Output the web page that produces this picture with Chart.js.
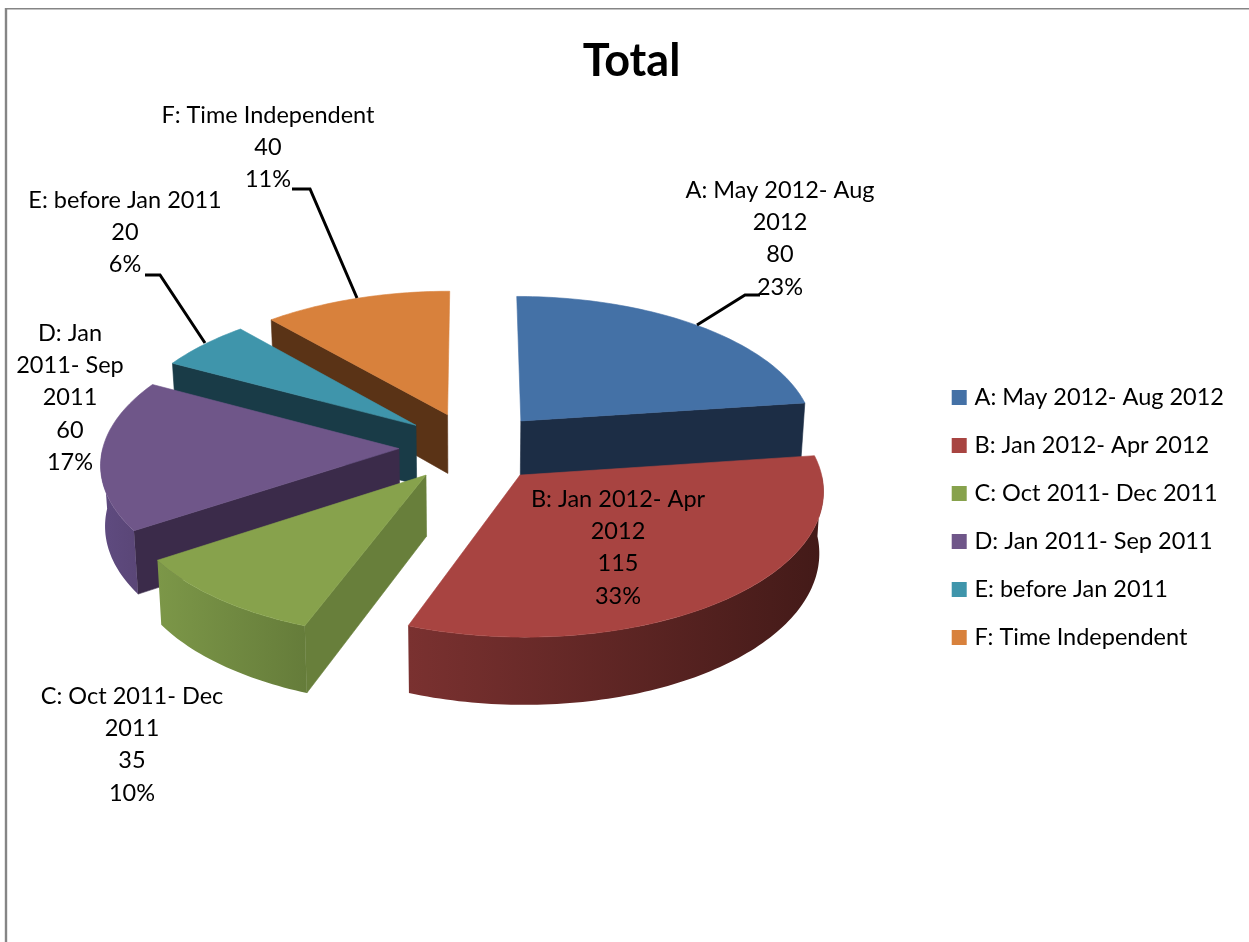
<!DOCTYPE html>
<html>
<head>
<meta charset="utf-8">
<style>html,body{margin:0;padding:0;background:#fff}canvas{display:block}</style>
<script src="https://cdn.jsdelivr.net/npm/chart.js@4"></script>
</head>
<body>
<canvas id="c" width="1249" height="942"></canvas>
<script>
const categories = ['A: May 2012- Aug 2012','B: Jan 2012- Apr 2012','C: Oct 2011- Dec 2011','D: Jan 2011- Sep 2011','E: before Jan 2011','F: Time Independent'];
const seriesValues = [80,115,35,60,20,40];
const wrappedNames = [['A: May 2012- Aug','2012'],['B: Jan 2012- Apr','2012'],['C: Oct 2011- Dec','2011'],['D: Jan','2011- Sep','2011'],['E: before Jan 2011'],['F: Time Independent']];
const topColors = ['#4471A6','#A84441','#87A24C','#6F5689','#3F95AB','#D8813C'];
const faceColors = ['#1C2D45','#431A18','#687F3B','#3B2B4A','#193B47','#5A3316'];
const wallLeft = ['#2A4565','#7A3130','#7C9748','#5F4B80','#275C6A','#84502A'];
const wallRight = ['#1C2D45','#431A18','#657C3A','#5A4677','#193B47','#5A3316'];
const paintOrder = [5,0,4,3,2,1];
const labelAnchors = [[780,190],[618,499],[132,696],[70,333],[125,200],[268,115]];
const leaderLines = [[[697,325],[745,295],[760,295]],null,null,null,[[205,343],[160,275],[145,275]],[[357,298],[310,189],[292,189]]];
const FONT = 'Lato, Calibri, sans-serif';
const view = {xc:473,y0:447,sx:296,sy:141,persp:0.095,depth:60,taper:0.012};
const legendShift = {x:-15,y:46.5};

function project(X,Y,z){
  const f = 1/(1-view.persp*Y);
  return [view.xc + view.sx*X*f*(1-view.taper*z), view.y0 + view.sy*Y*f + z*view.depth*f];
}
function modelPoint(el,a,onRim){
  const mid=(el.startAngle+el.endAngle)/2, R=el.outerRadius, e=el.options.offset/R;
  const r=onRim?1:0;
  return [e*Math.cos(mid)+r*Math.cos(a), e*Math.sin(mid)+r*Math.sin(a)];
}
function rim(el,a0,a1,z){
  const pts=[], n=Math.max(2,Math.ceil(Math.abs(a1-a0)/0.02));
  for(let i=0;i<=n;i++){
    const p=modelPoint(el,a0+(a1-a0)*i/n,true);
    pts.push(project(p[0],p[1],z));
  }
  return pts;
}
function fillPoly(ctx,pts,fill,outline){
  ctx.beginPath();
  pts.forEach((p,i)=>i?ctx.lineTo(p[0],p[1]):ctx.moveTo(p[0],p[1]));
  ctx.closePath();
  ctx.fillStyle=fill; ctx.fill();
  if(outline){ctx.lineWidth=0.6; ctx.strokeStyle=fill; ctx.stroke();}
}
function radialFace(ctx,el,a,fill){
  const ap=modelPoint(el,a,false), rp=modelPoint(el,a,true);
  fillPoly(ctx,[project(ap[0],ap[1],0),project(rp[0],rp[1],0),project(rp[0],rp[1],1),project(ap[0],ap[1],1)],fill,true);
}
const pie3d = {
  id:'pie3d',
  afterLayout(chart){
    const l=chart.legend;
    l.left+=legendShift.x; l.right+=legendShift.x; l.top+=legendShift.y; l.bottom+=legendShift.y;
  },
  beforeDraw(chart){
    const ctx=chart.ctx; ctx.save();
    ctx.strokeStyle='#858585';
    ctx.lineWidth=2.4; ctx.beginPath(); ctx.moveTo(6,8); ctx.lineTo(6,942); ctx.stroke();
    ctx.lineWidth=1.5; ctx.beginPath(); ctx.moveTo(5,8.7); ctx.lineTo(1249,8.7); ctx.stroke();
    ctx.restore();
  },
  beforeDatasetsDraw(chart){
    const ctx=chart.ctx, arcs=chart.getDatasetMeta(0).data;
    ctx.save();
    paintOrder.forEach(i=>{
      const el=arcs[i], a=el.startAngle, b=el.endAngle;
      if(-Math.cos(a)>0.001) radialFace(ctx,el,a,faceColors[i]);
      if(Math.cos(b)>0.001) radialFace(ctx,el,b,faceColors[i]);
      const w0=Math.max(a,0), w1=Math.min(b,Math.PI);
      if(w1>w0){
        const top=rim(el,w0,w1,0), bottom=rim(el,w0,w1,1).reverse();
        const xs=top.concat(bottom).map(p=>p[0]);
        const g=ctx.createLinearGradient(Math.min(...xs),0,Math.max(...xs),0);
        g.addColorStop(0,wallLeft[i]); g.addColorStop(1,wallRight[i]);
        fillPoly(ctx,top.concat(bottom),g,false);
      }
      const ap=modelPoint(el,a,false);
      fillPoly(ctx,[project(ap[0],ap[1],0)].concat(rim(el,a,b,0)),el.options.backgroundColor,true);
    });
    // leader lines
    ctx.strokeStyle='#000'; ctx.lineWidth=3; ctx.lineJoin='miter';
    leaderLines.forEach(l=>{
      if(!l) return;
      ctx.beginPath(); l.forEach((p,k)=>k?ctx.lineTo(p[0],p[1]):ctx.moveTo(p[0],p[1])); ctx.stroke();
    });
    // data labels
    const total=seriesValues.reduce((s,v)=>s+v,0);
    ctx.fillStyle='#000'; ctx.font='23.5px '+FONT; ctx.textAlign='center'; ctx.textBaseline='middle';
    seriesValues.forEach((v,i)=>{
      const lines=wrappedNames[i].concat([String(v),Math.round(v/total*100)+'%']);
      lines.forEach((t,k)=>ctx.fillText(t,labelAnchors[i][0],labelAnchors[i][1]+k*32.4));
    });
    ctx.restore();
    return false;
  }
};
new Chart(document.getElementById('c'),{
  type:'pie',
  plugins:[pie3d],
  data:{labels:categories,datasets:[{data:seriesValues,backgroundColor:topColors,borderWidth:0,offset:70,radius:280}]},
  options:{
    responsive:false,animation:false,events:[],
    layout:{padding:{left:14,right:0,top:0,bottom:0}},
    plugins:{
      tooltip:{enabled:false},
      title:{display:true,text:'Total',color:'#000',font:{family:FONT,size:45,weight:'bold'},padding:{top:34,bottom:10}},
      legend:{position:'right',align:'center',labels:{
        color:'#000',font:{family:FONT,size:23.5},padding:24.5,boxWidth:7,boxHeight:7,
        generateLabels(chart){
          return Chart.overrides.pie.plugins.legend.labels.generateLabels(chart).map(l=>Object.assign(l,{lineWidth:8,strokeStyle:l.fillStyle}));
        }
      }}
    }
  }
});
</script>
</body>
</html>
